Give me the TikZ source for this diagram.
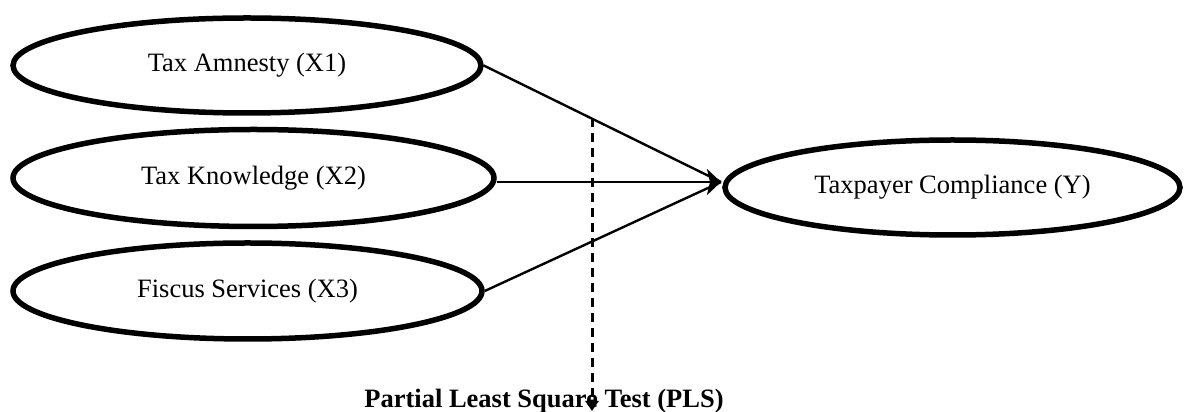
\documentclass[tikz,border=0pt]{standalone}
\usepackage{fontspec}
\setmainfont{Liberation Serif}
\usetikzlibrary{shapes.geometric,arrows.meta}
\begin{document}
\begin{tikzpicture}[x=1pt,y=1pt,
  latent/.style={draw,ellipse,line width=5.5pt,inner sep=0pt,
    font=\fontsize{26.5}{30}\selectfont},
  path/.style={line width=2.4pt},
  dashpath/.style={line width=3pt,dash pattern=on 9pt off 6pt}]
\useasboundingbox (0,0) rectangle (1184,412);
\node[latent,minimum width=468pt,minimum height=95pt] (x1) at (247,346.5) {Tax Amnesty (X1)};
\node[latent,minimum width=481pt,minimum height=97pt] (x2) at (253.5,234) {Tax Knowledge (X2)};
\node[latent,minimum width=469pt,minimum height=96pt] (x3) at (247.5,121) {Fiscus Services (X3)};
\node[latent,minimum width=455pt,minimum height=95pt] (y) at (952.5,224.5) {Taxpayer Compliance (Y)};
\coordinate (tip) at (721,230);
\draw[path] (x1.east) -- (tip);
\draw[path] (x3.east) -- (tip);
\draw[path,-{Stealth[length=14pt,width=26pt,inset=3pt]}] (x2.east |- tip) -- (tip);
\coordinate (dtop) at (592,294);
\coordinate (dbot) at (592,1);
\draw[dashpath,-{Triangle[length=10pt,width=13pt]}] (dtop) -- (dbot);
\node[font=\fontsize{26.5}{30}\selectfont\bfseries,anchor=base,inner sep=0pt] (pls) at (544,4) {Partial Least Square Test (PLS)};
\end{tikzpicture}
\end{document}
